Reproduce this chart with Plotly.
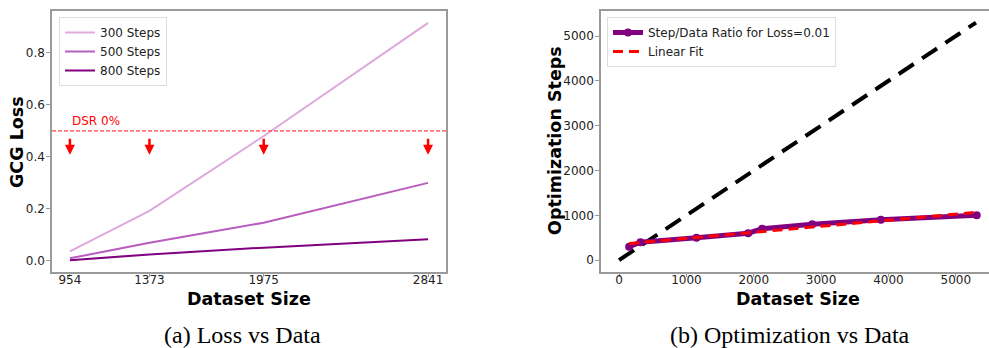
import plotly.graph_objects as go

# ---- data ----
dataset_sizes = [954, 1373, 1975, 2841]
loss_300 = [0.037, 0.192, 0.48, 0.915]
loss_500 = [0.010, 0.070, 0.147, 0.300]
loss_800 = [0.003, 0.025, 0.051, 0.083]
dsr_level = 0.5
arrow_top = 0.475
arrow_bottom = 0.408

ratio_sizes = [150, 318, 1150, 1917, 2125, 2868, 3888, 5310]
ratio_steps = [300, 400, 500, 600, 700, 800, 900, 1000]
fit_x = [150, 5310]
fit_y = [370, 1068]
ident_x = [0, 5300]
ident_y = [0, 5300]

W, H = 989, 348
GREY = "#9a9a9a"
TICKFONT = dict(family="DejaVu Sans", size=12, color="#222")
TITLEFONT = dict(family="DejaVu Sans", size=17.5, color="black", weight="bold")
LEGFONT = dict(family="DejaVu Sans", size=12, color="#222")
CAPFONT = dict(family="Liberation Serif", size=24, color="black")

fig = go.Figure()

fig.add_trace(go.Scatter(x=dataset_sizes, y=loss_300, mode="lines", name="300 Steps",
                         line=dict(color="#DDA8DD", width=2), xaxis="x", yaxis="y", legend="legend"))
fig.add_trace(go.Scatter(x=dataset_sizes, y=loss_500, mode="lines", name="500 Steps",
                         line=dict(color="#B85CBF", width=2), xaxis="x", yaxis="y", legend="legend"))
fig.add_trace(go.Scatter(x=dataset_sizes, y=loss_800, mode="lines", name="800 Steps",
                         line=dict(color="#800080", width=2), xaxis="x", yaxis="y", legend="legend"))

fig.add_trace(go.Scatter(x=ident_x, y=ident_y, mode="lines", showlegend=False,
                         line=dict(color="black", width=4, dash="18px,10px"), xaxis="x2", yaxis="y2"))
fig.add_trace(go.Scatter(x=ratio_sizes, y=ratio_steps, mode="lines+markers",
                         name="Step/Data Ratio for Loss=0.01",
                         line=dict(color="#800080", width=5), marker=dict(size=8, color="#800080"),
                         xaxis="x2", yaxis="y2", legend="legend2"))
fig.add_trace(go.Scatter(x=fit_x, y=fit_y, mode="lines", name="Linear Fit",
                         line=dict(color="red", width=3, dash="10px,6px"),
                         xaxis="x2", yaxis="y2", legend="legend2"))

# DSR line
fig.add_shape(type="line", xref="x domain", yref="y", x0=0, x1=1, y0=dsr_level, y1=dsr_level,
              line=dict(color="#ff4040", width=1.2, dash="4px,2px"))

annotations = []
for xv in dataset_sizes:
    annotations.append(dict(x=xv, y=arrow_bottom, ax=xv, ay=arrow_top, xref="x", yref="y",
                            axref="x", ayref="y", text="", showarrow=True, arrowhead=2,
                            arrowsize=0.8, arrowwidth=2.5, arrowcolor="red"))
annotations.append(dict(x=954, y=0.538, xref="x", yref="y", text="DSR 0%", showarrow=False,
                        xanchor="left", yanchor="middle",
                        font=dict(family="DejaVu Sans", size=12, color="red")))


def paper_text(px, py, text, font, angle=0):
    return dict(x=px / W, y=1 - py / H, xref="paper", yref="paper", text=text, showarrow=False,
                xanchor="center", yanchor="middle", textangle=angle, font=font, borderpad=0)


annotations += [
    paper_text(242, 335, "(a) Loss vs Data", CAPFONT),
    paper_text(790, 335, "(b) Optimization vs Data", CAPFONT),
    paper_text(249, 299, "Dataset Size", TITLEFONT),
    paper_text(798, 299, "Dataset Size", TITLEFONT),
    paper_text(17, 142, "GCG Loss", TITLEFONT, -90),
    paper_text(555, 141, "Optimization Steps", TITLEFONT, -90),
]

axis_common = dict(showline=True, linecolor=GREY, linewidth=1.5, mirror=True, showgrid=False,
                   zeroline=False, ticks="outside", tickcolor=GREY, tickfont=TICKFONT,
                   automargin=False)

fig.update_layout(
    width=W, height=H,
    margin=dict(l=0, r=0, t=0, b=0),
    paper_bgcolor="white", plot_bgcolor="white",
    showlegend=True,
    xaxis=dict(domain=[52 / W, 446 / W], range=[859.6, 2935.4], tickvals=dataset_sizes,
               anchor="y", ticklen=3, ticklabelstandoff=-7, **axis_common),
    yaxis=dict(domain=[1 - 272 / H, 1 - 11 / H], range=[-0.0426, 0.9606], tickvals=[0, 0.2, 0.4, 0.6, 0.8],
               tickformat=".1f", anchor="x", ticklen=4, ticklabelstandoff=-1, **axis_common),
    xaxis2=dict(domain=[601 / W, 1.0], range=[-268, 5493], tickvals=[0, 1000, 2000, 3000, 4000, 5000],
                anchor="y2", ticklen=3, ticklabelstandoff=-7, **axis_common),
    yaxis2=dict(domain=[1 - 272 / H, 1 - 11 / H], range=[-265, 5558], tickvals=[0, 1000, 2000, 3000, 4000, 5000],
                anchor="x2", ticklen=4, ticklabelstandoff=-1, **axis_common),
    legend=dict(x=59 / W, y=1 - 17 / H, xanchor="left", yanchor="top", bgcolor="rgba(255,255,255,0.8)",
                bordercolor="#dddddd", borderwidth=1, font=LEGFONT, tracegroupgap=0, itemwidth=30),
    legend2=dict(x=607 / W, y=1 - 17 / H, xanchor="left", yanchor="top", bgcolor="rgba(255,255,255,0.8)",
                 bordercolor="#dddddd", borderwidth=1, font=LEGFONT, tracegroupgap=0, itemwidth=30),
    annotations=annotations,
)

fig.write_html("out.html", config={"displayModeBar": False},
               post_script="document.body.style.margin='0';document.body.style.overflow='hidden';")
